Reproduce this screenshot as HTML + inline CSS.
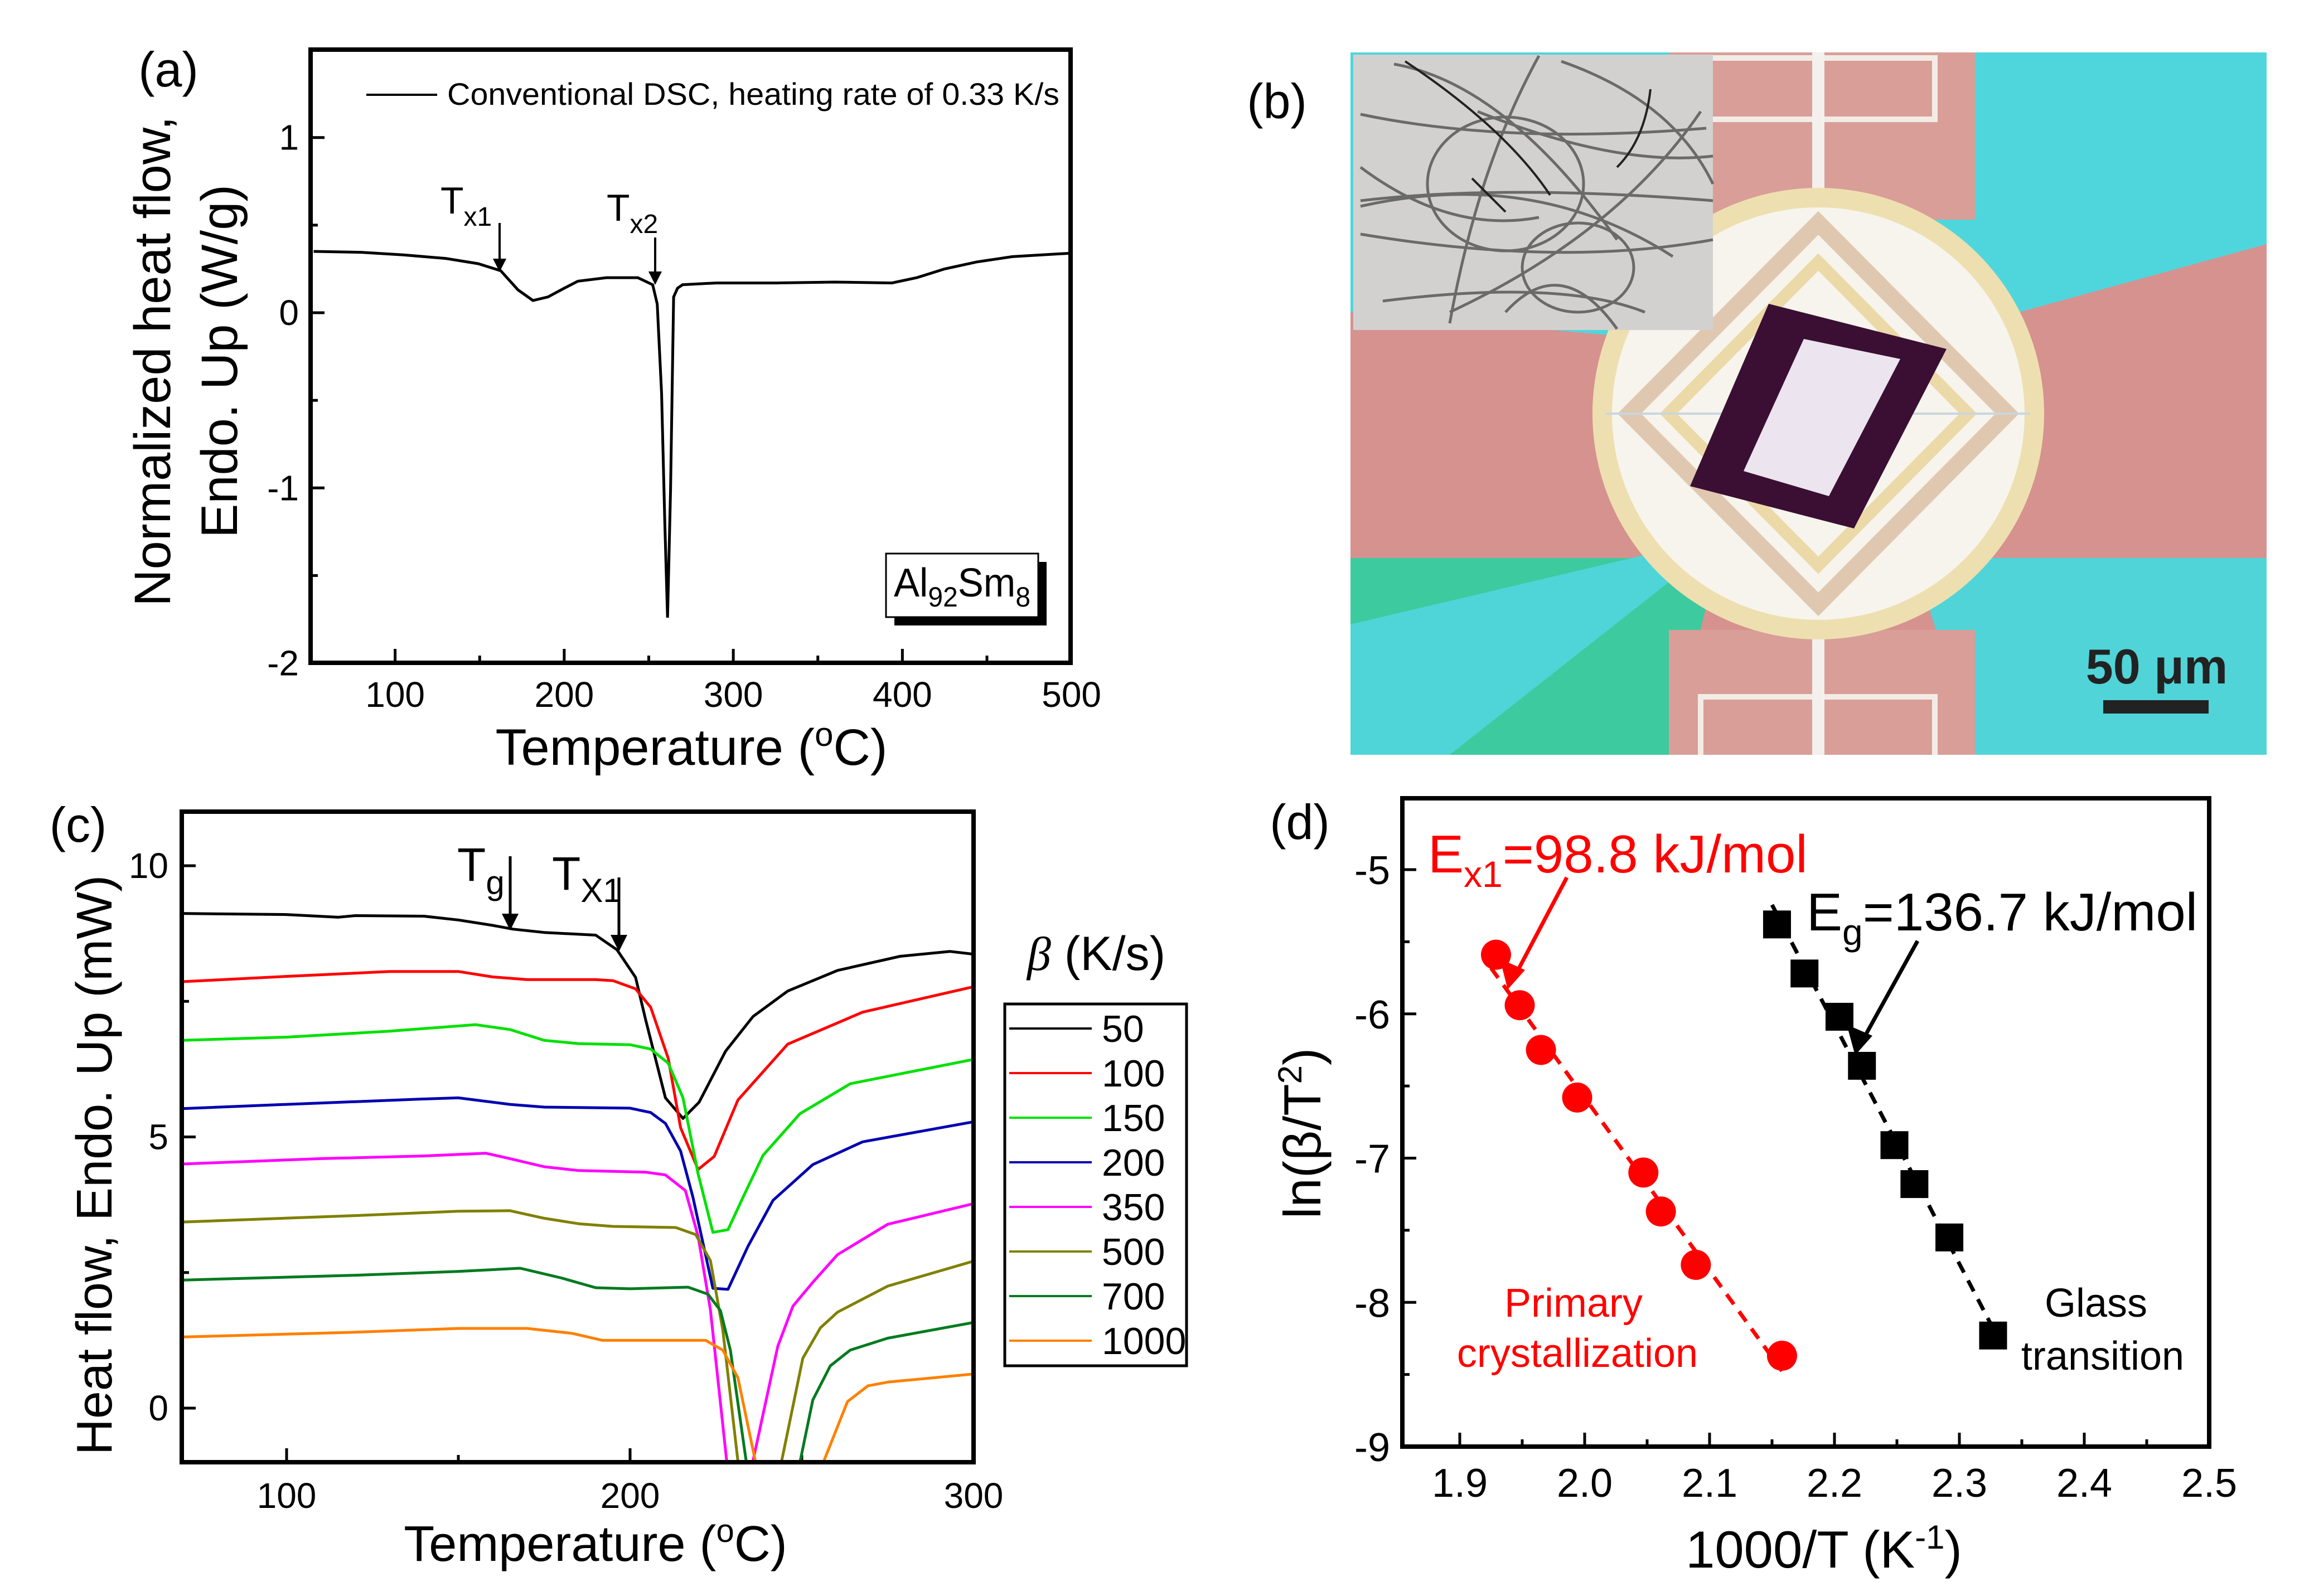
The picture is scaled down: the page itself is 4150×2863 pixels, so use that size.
<!DOCTYPE html>
<html><head><meta charset="utf-8"><style>
html,body{margin:0;padding:0;background:#fff}
svg{display:block}
text{font-family:"Liberation Sans",Arial,sans-serif}
.n{font-family:"Liberation Sans Narrow","Liberation Sans",sans-serif}
</style></head><body>
<svg id="fig" xmlns="http://www.w3.org/2000/svg" width="4150" height="2863" viewBox="0 0 4150 2863">
<defs>
<clipPath id="clipA"><rect x="557" y="89" width="1363" height="1100"/></clipPath>
<clipPath id="clipC"><rect x="326" y="1456" width="1420" height="1167"/></clipPath>
<clipPath id="clipB"><rect x="2422" y="94" width="1643" height="1260"/></clipPath>
<marker id="ah" markerWidth="6" markerHeight="6" refX="5" refY="3" orient="auto" markerUnits="strokeWidth"><path d="M0,0 L6,3 L0,6 z" fill="#000"/></marker>
</defs>

<!-- ===== Panel (a) ===== -->
<g id="panelA">
<text x="302" y="155" font-size="88" text-anchor="middle">(a)</text>
<g id="aTicks"></g>
<g clip-path="url(#clipA)"><path id="aCurve" fill="none" stroke="#000" stroke-width="5"/></g>
<rect x="557" y="89" width="1363" height="1100" fill="none" stroke="#000" stroke-width="8"/>
<line x1="657" y1="170" x2="784" y2="170" stroke="#000" stroke-width="4"/>
<text x="802" y="188" font-size="56" textLength="1098" lengthAdjust="spacingAndGlyphs" class="n">Conventional DSC, heating rate of 0.33 K/s</text>
<text x="790" y="383" font-size="68" class="n">T<tspan font-size="48" dy="22">x1</tspan></text>
<line x1="896" y1="400" x2="896" y2="484" stroke="#000" stroke-width="4" marker-end="url(#ah)"/>
<text x="1088" y="396" font-size="68" class="n">T<tspan font-size="48" dy="22">x2</tspan></text>
<line x1="1175" y1="426" x2="1175" y2="507" stroke="#000" stroke-width="4" marker-end="url(#ah)"/>
<rect x="1604" y="1008" width="273" height="114" fill="#000"/>
<rect x="1589" y="993" width="273" height="114" fill="#fff" stroke="#000" stroke-width="3"/>
<text x="1603" y="1070" font-size="72" textLength="245" lengthAdjust="spacingAndGlyphs" class="n">Al<tspan font-size="50" dy="18">92</tspan><tspan dy="-18">Sm</tspan><tspan font-size="50" dy="18">8</tspan></text>
<text transform="translate(305,648) rotate(-90)" font-size="92" text-anchor="middle">Normalized heat flow,</text>
<text transform="translate(425,648) rotate(-90)" font-size="92" text-anchor="middle">Endo. Up (W/g)</text>
<text x="1240" y="1372" font-size="92" text-anchor="middle">Temperature (<tspan font-size="60" dy="-34">o</tspan><tspan dy="34">C)</tspan></text>
</g>

<!-- ===== Panel (b) photo ===== -->
<g id="panelB">
<text x="2290" y="212" font-size="88" text-anchor="middle">(b)</text>
<g clip-path="url(#clipB)">
<rect x="2422" y="94" width="1643" height="1260" fill="#d6928f"/>
<polygon points="3542,94 4065,94 4065,438 3330,640" fill="#4fd6dc"/>
<polygon points="2422,1001 2993,1001 3120,850 2993,1354 2422,1354" fill="#3dca9e"/>
<polygon points="2422,1120 3100,960 2600,1354 2422,1354" fill="#4fd4d8"/>
<polygon points="3542,1001 4065,1001 4065,1354 3542,1354 3400,900" fill="#50d4d8"/>
<polygon points="2422,94 3000,94 3100,620 2422,560" fill="#4fd6dc"/>
<rect x="2993" y="94" width="549" height="300" fill="#d99e98"/>
<rect x="2993" y="1130" width="549" height="224" fill="#d99e98"/>
<rect x="3050" y="104" width="420" height="110" fill="none" stroke="#f3ece6" stroke-width="10"/>
<rect x="3050" y="1250" width="420" height="110" fill="none" stroke="#f3ece6" stroke-width="10"/>
<line x1="3261" y1="94" x2="3261" y2="1354" stroke="#f4f0ee" stroke-width="22"/>
<circle cx="3261" cy="742" r="405" fill="#eedfb0"/>
<circle cx="3261" cy="742" r="370" fill="#f6f4ec"/>
<polygon points="3261,400 3600,742 3261,1084 2922,742" fill="none" stroke="#e0c8b0" stroke-width="30"/>
<polygon points="3261,470 3530,742 3261,1014 2992,742" fill="none" stroke="#ecd9a8" stroke-width="22"/>
<line x1="2880" y1="742" x2="3640" y2="742" stroke="#c9d6de" stroke-width="4"/>
<polygon points="3172,545 3491,626 3325,948 3031,872" fill="#3a0f33"/>
<polygon points="3235,608 3408,644 3280,890 3127,845" fill="#ece4ee"/>
<rect x="2427" y="98" width="645" height="494" fill="#d3d1cf"/>
<g stroke="#6a6a6a" stroke-width="5" fill="none">
<path d="M2500,115 Q2700,150 2900,430"/><path d="M2440,205 Q2700,260 3060,230"/><path d="M2440,370 Q2750,300 3000,460"/>
<path d="M2760,100 Q2650,300 2600,580"/><path d="M2440,420 Q2800,480 3072,430"/><path d="M2600,560 Q2900,420 3050,200"/>
<path d="M2800,110 Q3000,180 3072,330"/><path d="M2700,560 Q2800,450 2900,590"/><path d="M2480,540 Q2800,500 2950,560"/>
<path d="M2440,360 Q2700,330 3072,360"/><path d="M2440,300 Q2600,420 2760,390"/><path d="M2650,200 Q2900,300 3072,280"/>
<ellipse cx="2700" cy="330" rx="140" ry="120"/><ellipse cx="2830" cy="480" rx="100" ry="80"/>
</g>
<g stroke="#222" stroke-width="4" fill="none"><path d="M2520,110 Q2700,230 2780,350"/><path d="M2900,300 Q2950,250 2960,160"/><path d="M2700,380 L2640,320"/></g>
</g>
<text x="3868" y="1226" font-size="88" font-weight="bold" text-anchor="middle" fill="#222">50 μm</text>
<rect x="3772" y="1256" width="189" height="24" fill="#222"/>
</g>

<!-- ===== Panel (c) ===== -->
<g id="panelC">
<text x="140" y="1510" font-size="88" text-anchor="middle">(c)</text>
<g id="cTicks"></g>
<g id="cCurves" clip-path="url(#clipC)"></g>
<rect x="326" y="1456" width="1420" height="1167" fill="none" stroke="#000" stroke-width="8"/>
<text x="820" y="1580" font-size="84" class="n">T<tspan font-size="60" dy="24">g</tspan></text>
<line x1="915" y1="1536" x2="915" y2="1664" stroke="#000" stroke-width="5" marker-end="url(#ah)"/>
<text x="990" y="1596" font-size="84" class="n">T<tspan font-size="60" dy="22">X1</tspan></text>
<line x1="1110" y1="1574" x2="1110" y2="1702" stroke="#000" stroke-width="5" marker-end="url(#ah)"/>
<text x="1842" y="1740" font-size="86"><tspan font-family="Liberation Serif" font-style="italic">β</tspan> (K/s)</text>
<rect x="1802" y="1801" width="326" height="649" fill="#fff" stroke="#000" stroke-width="5"/>
<g id="cLegend"></g>
<text transform="translate(200,2090) rotate(-90)" font-size="90" text-anchor="middle">Heat flow, Endo. Up (mW)</text>
<text x="1068" y="2800" font-size="90" text-anchor="middle" class="n">Temperature (<tspan font-size="58" dy="-34">o</tspan><tspan dy="34">C)</tspan></text>
</g>

<!-- ===== Panel (d) ===== -->
<g id="panelD">
<text x="2331" y="1505" font-size="88" text-anchor="middle">(d)</text>
<g id="dTicks"></g>
<g id="dMarks"></g>
<rect x="2515" y="1432" width="1447" height="1163" fill="none" stroke="#000" stroke-width="8"/>
<text x="2561" y="1565" font-size="96" fill="#f00">E<tspan font-size="66" dy="26">x1</tspan><tspan dy="-26">=98.8 kJ/mol</tspan></text>
<line x1="2810" y1="1574" x2="2712" y2="1760" stroke="#f00" stroke-width="7"/>
<polygon points="2704,1775 2690,1720 2735,1740" fill="#f00"/>
<text x="3240" y="1669" font-size="96">E<tspan font-size="66" dy="26">g</tspan><tspan dy="-26">=136.7 kJ/mol</tspan></text>
<line x1="3439" y1="1688" x2="3335" y2="1876" stroke="#000" stroke-width="7"/>
<polygon points="3327,1893 3312,1838 3358,1858" fill="#000"/>
<text x="2822" y="2362" font-size="72" fill="#f00" text-anchor="middle" class="n">Primary</text>
<text x="2829" y="2452" font-size="72" fill="#f00" text-anchor="middle" class="n">crystallization</text>
<text x="3759" y="2362" font-size="72" text-anchor="middle" class="n">Glass</text>
<text x="3771" y="2457" font-size="72" text-anchor="middle" class="n">transition</text>
<text transform="translate(2368,2033) rotate(-90)" font-size="94" text-anchor="middle">ln(β/T<tspan font-size="60" dy="-34">2</tspan><tspan dy="34">)</tspan></text>
<text x="3271" y="2812" font-size="94" text-anchor="middle">1000/T (K<tspan font-size="60" dy="-34">-1</tspan><tspan dy="34">)</tspan></text>
</g>
</svg>
<script>
// ---------- data: panel (a) ----------
const aTemp = [51.8,80,104.9,130,149.1,162.4,172.7,181.5,190.4,200,208.1,225,243.5,252.3,255,257.6,259.5,261.1,262.9,264.7,267,270,290,326,360,393.8,408.5,425,443.9,465,482.2,500];
const aFlow = [0.35,0.345,0.33,0.31,0.28,0.24,0.13,0.07,0.09,0.14,0.18,0.20,0.20,0.16,0.05,-0.46,-1.2,-1.74,-1.01,0.09,0.14,0.16,0.17,0.17,0.175,0.17,0.20,0.25,0.29,0.32,0.33,0.34];
const aXTicks = [100,200,300,400,500];
const aYTicks = [1,0,-1,-2];

// ---------- data: panel (c) ----------
const cRates = ['50','100','150','200','350','500','700','1000'];
const cColors = ['#000000','#ff0000','#00e000','#0000b0','#ff00ff','#808000','#007a20','#ff8000'];
const cT50 = [69,100,115,120,140,150,160,166,175,190,196.2,201.6,204.5,210.3,215.4,220.1,227.8,235.8,245.9,260.4,278.6,293.1,300];
const cV50 = [9.12,9.10,9.05,9.08,9.07,9.0,8.9,8.83,8.77,8.72,8.45,7.94,7.17,5.72,5.34,5.64,6.58,7.22,7.69,8.07,8.33,8.42,8.37];
const cT100 = [69,100,130,150,160,170,190,195.1,201.6,206,211.1,214.7,219.8,224.5,231.4,245.9,267.7,300];
const cV100 = [7.86,7.96,8.05,8.05,7.95,7.9,7.9,7.88,7.73,7.39,6.45,5.17,4.40,4.64,5.68,6.71,7.30,7.77];
const cT150 = [69,100,130,155,165,175,185,200,206,211.1,215.4,219.8,224.1,228.5,232.9,238.7,249.5,264.1,300];
const cV150 = [6.78,6.84,6.95,7.07,6.98,6.78,6.72,6.70,6.62,6.36,5.72,4.32,3.24,3.29,3.89,4.66,5.43,5.98,6.43];
const cT200 = [69,100,140,150,165,175,200,206,210.3,214.7,218.3,224.1,228.5,234.3,241.6,253.2,267.7,300];
const cV200 = [5.52,5.6,5.7,5.72,5.6,5.55,5.53,5.45,5.25,4.74,3.89,2.21,2.19,2.98,3.83,4.49,4.91,5.28];
const cT350 = [69,110,140,158,165,175,185,204.5,210.3,216.1,219.8,223.4,228.5,235,243,247.4,253.2,260.4,275,300];
const cV350 = [4.5,4.6,4.65,4.7,4.6,4.45,4.38,4.35,4.30,4.01,3.17,1.81,-1.2,-1.2,1.14,1.88,2.32,2.83,3.39,3.77];
const cT500 = [69,120,150,165,175,185,195,213.3,219.1,223.4,227,231.8,243.4,250.3,255.4,260.4,275,300];
const cV500 = [3.43,3.55,3.63,3.64,3.5,3.4,3.35,3.33,3.20,2.72,1.44,-1.2,-1.2,0.92,1.48,1.77,2.25,2.71];
const cT700 = [69,120,150,168,180,190,200,216.9,222.7,226.3,229.2,234.3,248.8,253.2,258.3,264.1,275,300];
const cV700 = [2.36,2.45,2.52,2.58,2.4,2.22,2.2,2.23,2.1,1.8,1.07,-1.2,-1.2,0.15,0.78,1.07,1.29,1.58];
const cT1000 = [69,120,150,170,183,192,222,227,231.4,237.2,255,263.3,269.2,275,300];
const cV1000 = [1.31,1.4,1.47,1.47,1.38,1.25,1.25,1.07,0.56,-1.2,-1.2,0.12,0.41,0.48,0.63];
const cXTicks = [100,200,300];
const cYTicks = [0,5,10];

// ---------- data: panel (d) ----------
const dCrystX = [1.929,1.948,1.965,1.994,2.047,2.061,2.089,2.158];
const dCrystY = [-5.59,-5.94,-6.25,-6.58,-7.10,-7.37,-7.74,-8.37];
const dGlassX = [2.154,2.176,2.204,2.222,2.248,2.264,2.292,2.327];
const dGlassY = [-5.38,-5.72,-6.02,-6.36,-6.91,-7.18,-7.55,-8.23];
const dXTicks = ['1.9','2.0','2.1','2.2','2.3','2.4','2.5'];
const dYTicks = [-5,-6,-7,-8,-9];

const NS = 'http://www.w3.org/2000/svg';
function mk(tag, parent){ const e=document.createElementNS(NS,tag); parent.appendChild(e); return e; }
function setA(e,o){ for(const k in o) e.setAttribute(k,o[k]); }

// axis functions
const xa = t => 557 + (t-50)*3.0325;
const ya = v => 561 - v*314.3;
const xc = t => 514 + (t-100)*6.16;
const yc = v => 2526 - v*97.3;
const xd = v => 2618 + (v-1.9)*2240;
const yd = v => 1560 - (v+5)*258.75;

function tick(parent,x1,y1,x2,y2,name){
  const l = mk('line',parent);
  setA(l,{x1:x1,y1:y1,x2:x2,y2:y2,stroke:'#000','stroke-width':5});
  
  
}
function label(parent,x,y,txt,size,anchor,name,cls){
  const t = mk('text',parent);
  setA(t,{x:x,y:y,'font-size':size,'text-anchor':anchor});
  if(cls) t.setAttribute('class',cls);
  t.textContent = txt;
  
  
}

// ---- panel a ----
const aT = document.getElementById('aTicks');
for(let t=100;t<500;t+=50){ tick(aT,xa(t),1189,xa(t),t%100===0?1164:1176,'x-tick-a'); }
for(let v=-1.5;v<=1.5;v+=0.5){ tick(aT,557,ya(v),Number.isInteger(v)?582:570,ya(v),'y-tick-a'); }
aXTicks.forEach(t=>label(aT,xa(t),1268,String(t),64,'middle','x-tick-label-a','n'));
aYTicks.forEach(v=>label(aT,536,ya(v)+22,String(v),64,'end','y-tick-label-a','n'));
document.getElementById('aCurve').setAttribute('d', aTemp.map((t,i)=>(i?'L':'M')+xa(t).toFixed(1)+','+ya(aFlow[i]).toFixed(1)).join(' '));

// ---- panel c ----
const cT = document.getElementById('cTicks');
for(let t=100;t<=300;t+=50){ if(t<300) tick(cT,xc(t),2623,xc(t),t%100===0?2598:2610,'x-tick-c'); }
for(let v=0;v<=10;v+=2.5){ tick(cT,326,yc(v),Number.isInteger(v/5)?351:339,yc(v),'y-tick-c'); }
cXTicks.forEach(t=>label(cT,xc(t),2705,String(t),64,'middle','x-tick-label-c','n'));
cYTicks.forEach(v=>label(cT,302,yc(v)+22,String(v),64,'end','y-tick-label-c','n'));
const cTs=[cT50,cT100,cT150,cT200,cT350,cT500,cT700,cT1000];
const cVs=[cV50,cV100,cV150,cV200,cV350,cV500,cV700,cV1000];
const cG = document.getElementById('cCurves');
const cL = document.getElementById('cLegend');
cRates.forEach((r,k)=>{
  const p = mk('path',cG);
  setA(p,{fill:'none',stroke:cColors[k],'stroke-width':5,'stroke-linejoin':'round',
    d: cTs[k].map((t,i)=>(i?'L':'M')+xc(t).toFixed(1)+','+yc(cVs[k][i]).toFixed(1)).join(' ')});
  
  
  const y = 1845 + k*80;
  const l = mk('line',cL);
  setA(l,{x1:1810,y1:y,x2:1958,y2:y,stroke:cColors[k],'stroke-width':4});
  
  
  label(cL,1976,y+24,r,68,'start','legend-label-'+r);
});

// ---- panel d ----
const dT = document.getElementById('dTicks');
for(let v=1.9;v<2.5;v+=0.05){ const major=Math.abs(v*10-Math.round(v*10))<1e-6; tick(dT,xd(v),2595,xd(v),major?2570:2582,'x-tick-d'); }
for(let v=-8.5;v<=-4.5;v+=0.5){ tick(dT,2515,yd(v),Number.isInteger(v)?2540:2528,yd(v),'y-tick-d'); }
dXTicks.forEach(s=>label(dT,xd(parseFloat(s)),2685,s,72,'middle','x-tick-label-d','n'));
dYTicks.forEach(v=>label(dT,2493,yd(v)+26,String(v),72,'end','y-tick-label-d','n'));
function fit(X,Y){ const n=X.length; const mx=X.reduce((a,b)=>a+b)/n, my=Y.reduce((a,b)=>a+b)/n;
  let sxy=0,sxx=0; for(let i=0;i<n;i++){sxy+=(X[i]-mx)*(Y[i]-my);sxx+=(X[i]-mx)**2;} const b=sxy/sxx; return [b,my-b*mx]; }
const dM = document.getElementById('dMarks');
function fitLine(X,Y,color,name){
  const [b,a]=fit(X,Y); const x0=Math.min(...X)-0.004, x1=Math.max(...X);
  const l = mk('line',dM);
  setA(l,{x1:xd(x0),y1:yd(a+b*x0),x2:xd(x1),y2:yd(a+b*x1),stroke:color,'stroke-width':7,'stroke-dasharray':'22,16'});
  
  
}
fitLine(dCrystX,dCrystY,'#f00','fit-line-crystallization');
fitLine(dGlassX,dGlassY,'#000','fit-line-glass');
dCrystX.forEach((x,i)=>{
  const c = mk('circle',dM);
  setA(c,{cx:xd(x),cy:yd(dCrystY[i]),r:27,fill:'#f00'});
  
  
});
dGlassX.forEach((x,i)=>{
  const s = mk('rect',dM);
  setA(s,{x:xd(x)-25,y:yd(dGlassY[i])-25,width:50,height:50,fill:'#000'});
  
  
});
</script>
</body></html>
